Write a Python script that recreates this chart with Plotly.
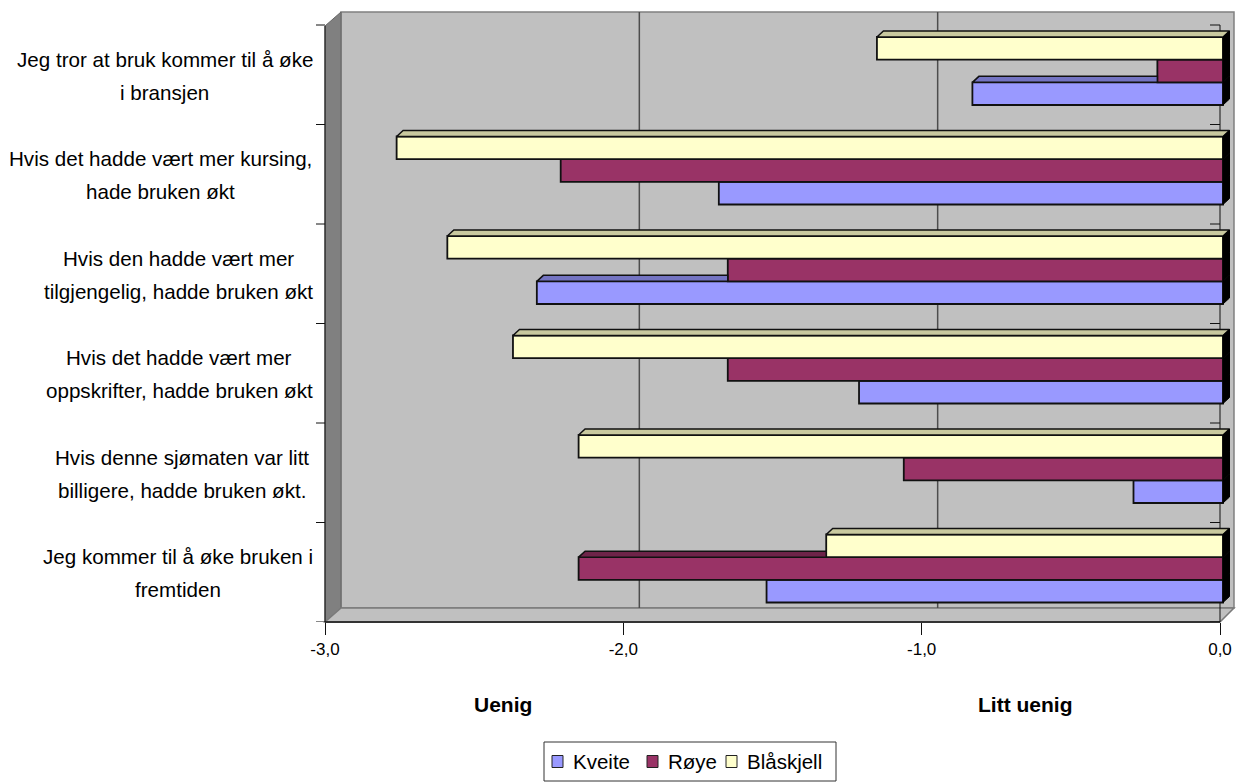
import plotly.graph_objects as go

# Statements, listed bottom-to-top as they sit on the category axis
categories = [
    "Jeg kommer til å øke bruken i<br>fremtiden",
    "Hvis denne sjømaten var litt<br>billigere, hadde bruken økt.",
    "Hvis det hadde vært mer<br>oppskrifter, hadde bruken økt",
    "Hvis den hadde vært mer<br>tilgjengelig, hadde bruken økt",
    "Hvis det hadde vært mer kursing,<br>hade bruken økt",
    "Jeg tror at bruk kommer til å øke<br>i bransjen",
]
kveite = [-1.53, -0.30, -1.22, -2.30, -1.69, -0.84]
roye = [-2.16, -1.07, -1.66, -1.66, -2.22, -0.22]
blaskjell = [-1.33, -2.16, -2.38, -2.60, -2.77, -1.16]
series_names = ["Kveite", "Røye", "Blåskjell"]
tick_values = [-3, -2, -1, 0]
tick_labels = ["-3,0", "-2,0", "-1,0", "0,0"]
scale_labels = ["Uenig", "Litt uenig"]

FONT = "Liberation Sans, Arial, sans-serif"
FRONT = ["#9999FF", "#993366", "#FFFFCC"]
TOP = ["#7474C2", "#6E2449", "#C9C99F"]

# page / plot-area geometry (pixels)
W, H = 1236, 782
PL, PR, PT, PB = 325, 1236, 12, 622
X0_PX, X1_PX = 325, 1220          # -3 and 0 on the front value axis
PPU = (X1_PX - X0_PX) / 3.0       # pixels per value unit
ROW = 99.5                        # pixels per category
BOTTOM_CENTER = 568.5             # centre of the lowest bar group
WALL = 16                         # depth of the 3-D walls
BAR_SHIFT = 3                     # bars sit slightly behind the front plane
DX_PX, DY_PX = 6.5, 6.0           # depth of the bars themselves

LABEL_SIZE = 20.6
LABEL_LINE_GAP = 33               # distance between the two lines of a label
LABEL_CENTER_X = [177.5, 182, 179, 178, 160, 164.5]   # centre of each label block

y0 = -(PB - BOTTOM_CENTER) / ROW
y1 = y0 + (PB - PT) / ROW
band_offset = y0 + 0.5

GROUP = 0.683
BW = GROUP / 3
DX = DX_PX / PPU
DY = DY_PX / ROW


def px(x):
    return (x - PL) / (PR - PL)


def py(y):
    return (PB - y) / (PB - PT)


def ppath(points):
    return "M " + " L ".join(f"{px(a):.5f},{py(b):.5f}" for a, b in points) + " Z"


fig = go.Figure()

values = [kveite, roye, blaskjell]
idx = list(range(len(categories)))

# invisible anchor so the front value axis is laid out and ticked
fig.add_trace(go.Scatter(x=tick_values, y=[y0] * len(tick_values), xaxis="x", yaxis="y",
                         mode="markers", marker=dict(opacity=0), showlegend=False,
                         hoverinfo="skip"))

# front faces of the bars
for s, (name, vals) in enumerate(zip(series_names, values)):
    fig.add_trace(go.Bar(
        y=idx, x=vals, orientation="h", name=name,
        xaxis="x2", yaxis="y",
        width=BW, offset=-GROUP / 2 + s * BW,
        marker=dict(color=FRONT[s], line=dict(color="#111111", width=1.8)),
        hovertemplate="%{x:.2f}<extra>" + name + "</extra>",
        showlegend=False,
    ))

# top faces (only the part not hidden by the bar above) and end faces
for s, vals in enumerate(values):
    for i, v in enumerate(vals):
        yb = i - GROUP / 2 + s * BW
        yt = yb + BW
        if s == len(values) - 1:
            xs = [v, v + DX, DX, 0, v]
            ys = [yt, yt + DY, yt + DY, yt, yt]
        else:
            v_next = values[s + 1][i]
            if v_next > v:
                xs = [v, v + DX, v_next, v_next, v]
                ys = [yt, yt + DY, yt + DY, yt, yt]
            else:
                xs = None
        if xs is not None:
            fig.add_trace(go.Scatter(
                x=xs, y=ys, xaxis="x2", yaxis="y", mode="lines",
                fill="toself", fillcolor=TOP[s],
                line=dict(color="#111111", width=1.5),
                showlegend=False, hoverinfo="skip",
            ))
        fig.add_trace(go.Scatter(
            x=[0, 0, DX, DX, 0], y=[yb, yt, yt + DY, yb + DY, yb],
            xaxis="x2", yaxis="y", mode="lines",
            fill="toself", fillcolor="#000000",
            line=dict(color="#000000", width=1),
            showlegend=False, hoverinfo="skip",
        ))

shapes = []
# back wall, side wall and floor
shapes.append(dict(type="path", xref="paper", yref="paper", layer="below",
                   path=ppath([(X0_PX + WALL, PT), (PR - 2, PT), (PR - 2, PB - 14), (X0_PX + WALL, PB - 14)]),
                   fillcolor="#C0C0C0", line=dict(color="#808080", width=1.5)))
shapes.append(dict(type="path", xref="paper", yref="paper", layer="below",
                   path=ppath([(X0_PX, PT + 14), (X0_PX + WALL, PT), (X0_PX + WALL, PB - 14), (X0_PX, PB)]),
                   fillcolor="#808080", line=dict(color="#666666", width=1)))
shapes.append(dict(type="path", xref="paper", yref="paper", layer="below",
                   path=ppath([(X0_PX, PB), (X0_PX + WALL, PB - 14), (PR - 2, PB - 14), (X1_PX, PB)]),
                   fillcolor="#C0C0C0", line=dict(color="#7a7a7a", width=1.5)))
# gridlines on the back wall
for v in tick_values[1:-1]:
    xb = X0_PX + (v + 3) * PPU + WALL
    shapes.append(dict(type="line", xref="paper", yref="paper", layer="below",
                       x0=px(xb), x1=px(xb), y0=py(PT), y1=py(PB - 14),
                       line=dict(color="#4d4d4d", width=1.5)))
# front value-axis line, left edge and the zero line
shapes.append(dict(type="line", xref="paper", yref="paper", layer="below",
                   x0=px(X0_PX), x1=px(X1_PX), y0=py(PB), y1=py(PB),
                   line=dict(color="#333333", width=2)))
shapes.append(dict(type="line", xref="paper", yref="paper", layer="below",
                   x0=px(X0_PX), x1=px(X0_PX), y0=py(PT + 14), y1=py(PB),
                   line=dict(color="#111111", width=1)))
shapes.append(dict(type="line", xref="paper", yref="paper", layer="below",
                   x0=px(X1_PX), x1=px(X1_PX), y0=py(PT + 13), y1=py(PB),
                   line=dict(color="#111111", width=1)))
# category boundary ticks
for k in range(len(categories) + 1):
    yk = k - 0.5 + band_offset
    for xa, xb_ in ((X0_PX - 9, X0_PX), (X1_PX - 10, X1_PX)):
        shapes.append(dict(type="line", xref="paper", yref="y", layer="below",
                           x0=px(xa), x1=px(xb_), y0=yk, y1=yk,
                           line=dict(color="#111111", width=1)))

annotations = []
# category labels: two centred lines per statement
for i, label in enumerate(categories):
    lines = label.split("<br>")
    n = len(lines)
    for j, line in enumerate(lines):
        annotations.append(dict(
            text=line, xref="paper", yref="y", x=px(LABEL_CENTER_X[i]), y=i + band_offset - 0.01,
            xanchor="center", yanchor="middle", showarrow=False,
            yshift=((n - 1) / 2 - j) * LABEL_LINE_GAP,
            font=dict(family=FONT, size=LABEL_SIZE, color="#000000"),
        ))
for text, cx in zip(scale_labels, (503, 1025)):
    annotations.append(dict(
        text=f"<b>{text}</b>", xref="paper", yref="paper", x=px(cx), y=py(704),
        xanchor="center", yanchor="middle", showarrow=False,
        font=dict(family=FONT, size=21, color="#000000"),
    ))

# legend box with a swatch and a name per series
LEG_BOX = (544, 742, 836, 781)
LEG_SWATCH_X = (552, 647, 726)
LEG_MID = 761.5
shapes.append(dict(type="rect", xref="paper", yref="paper", layer="above",
                   x0=px(LEG_BOX[0]), x1=px(LEG_BOX[2]), y0=py(LEG_BOX[1]), y1=py(LEG_BOX[3]),
                   fillcolor="#FFFFFF", line=dict(color="#333333", width=1)))
for s, (name, sx) in enumerate(zip(series_names, LEG_SWATCH_X)):
    shapes.append(dict(type="rect", xref="paper", yref="paper", layer="above",
                       x0=px(sx), x1=px(sx + 11), y0=py(LEG_MID - 6), y1=py(LEG_MID + 6),
                       fillcolor=FRONT[s], line=dict(color="#222222", width=1)))
    annotations.append(dict(
        text=name, xref="paper", yref="paper", x=px(sx + 19), y=py(LEG_MID),
        xanchor="left", yanchor="middle", showarrow=False,
        font=dict(family=FONT, size=20.5, color="#000000"),
    ))

x_hi = (PR - X1_PX) / PPU
fig.update_layout(
    width=W, height=H, autosize=False,
    margin=dict(l=PL, r=W - PR, t=PT, b=H - PB, pad=0),
    paper_bgcolor="#FFFFFF", plot_bgcolor="rgba(0,0,0,0)",
    barmode="overlay", showlegend=False,
    font=dict(family=FONT, color="#000000"),
    xaxis=dict(
        range=[-3, x_hi], tickvals=tick_values, ticktext=tick_labels,
        ticks="outside", ticklen=12, tickwidth=1, tickcolor="#111111",
        tickfont=dict(family=FONT, size=17, color="#000000"),
        showgrid=False, zeroline=False, showline=False, fixedrange=True,
        anchor="y",
    ),
    xaxis2=dict(
        range=[-3 - BAR_SHIFT / PPU, x_hi - BAR_SHIFT / PPU],
        overlaying="x", anchor="y", visible=False, fixedrange=True,
    ),
    yaxis=dict(range=[y0, y1], visible=False, fixedrange=True),
    shapes=shapes,
    annotations=annotations,
)

fig.write_html("out.html")
